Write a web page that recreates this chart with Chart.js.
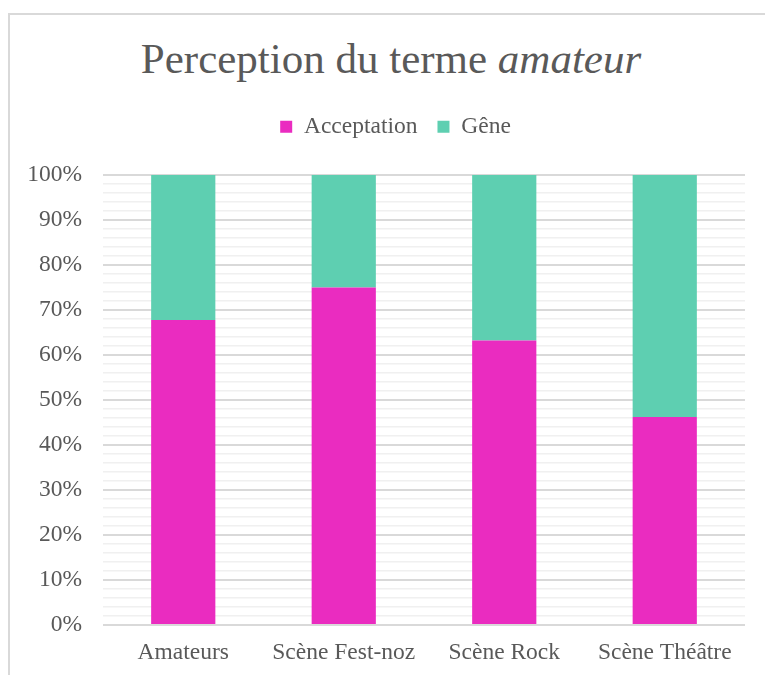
<!DOCTYPE html>
<html lang="fr">
<head>
  <meta charset="UTF-8">
  <title>Perception du terme amateur</title>
  <script src="https://cdn.jsdelivr.net/npm/chart.js"></script>
  <style>
    body {
      margin: 0;
      background: #fff;
      width: 765px;
      height: 675px;
      overflow: hidden;
      position: relative;
      font-family: "Liberation Serif", "Times New Roman", serif;
    }

    .frame {
      position: absolute;
      left: 8px;
      top: 13px;
      width: 800px;
      height: 700px;
      border-top: 2px solid #d9d9d9;
      border-left: 2px solid #d9d9d9;
    }

    #title {
      position: absolute;
      left: 0;
      top: 37px;
      width: 782px;
      text-align: center;
      font-size: 43px;
      line-height: 43px;
      color: #595959;
      white-space: nowrap;
    }

    .chart-box {
      position: absolute;
      left: 0;
      top: 0;
      width: 765px;
      height: 675px;
    }
  </style>
</head>
<body>

  <div class="frame"></div>
  <div id="title">Perception du terme <i>amateur</i></div>
  <div class="chart-box">
    <canvas id="perceptionChart" width="765" height="675"></canvas>
  </div>

  <script>
  // valeurs (en %)
  const categories = ["Amateurs", "Scène Fest-noz", "Scène Rock", "Scène Théâtre"];
  const acceptation = [67.8, 75, 63.2, 46.2];
  const gene = [32.2, 25, 36.8, 53.8];
  const yTicks = [0, 10, 20, 30, 40, 50, 60, 70, 80, 90, 100];

  const serif = "'Liberation Serif', 'Times New Roman', serif";
  const textColor = "#595959";

  // un peu plus d'espace sous la légende, et légende décalée vers la droite
  const legendSpacer = {
    id: "legendSpacer",
    beforeInit(chart) {
      const origFit = chart.legend.fit;
      chart.legend.fit = function () {
        origFit.bind(chart.legend)();
        this.height += 26.5;
      };
    },
    afterLayout(chart) {
      chart.legend.left += 46;
    }
  };

  const ctx = document.getElementById("perceptionChart").getContext("2d");
  new Chart(ctx, {
    type: "bar",
    data: {
      labels: categories,
      datasets: [
        {
          label: "Acceptation",
          data: acceptation,
          backgroundColor: "#ea2cc0",
          barPercentage: 0.4,
          categoryPercentage: 1
        },
        {
          label: "Gêne",
          data: gene,
          backgroundColor: "#5ecfb1",
          barPercentage: 0.4,
          categoryPercentage: 1
        }
      ]
    },
    options: {
      responsive: false,
      animation: false,
      layout: {
        padding: { top: 95, left: 0, right: 20, bottom: 0 }
      },
      plugins: {
        title: { display: false },
        tooltip: { enabled: false },
        legend: {
          position: "top",
          labels: {
            boxWidth: 12,
            boxHeight: 12,
            padding: 20,
            color: textColor,
            font: { family: serif, size: 23.5 }
          }
        }
      },
      scales: {
        x: {
          stacked: true,
          grid: { display: false, drawTicks: false },
          border: { display: false },
          ticks: {
            color: textColor,
            padding: 14,
            font: { family: serif, size: 23.5 }
          },
          afterFit(scale) { scale.height = 50; }
        },
        y: {
          stacked: true,
          min: 0,
          max: 100,
          border: { display: false },
          grid: {
            drawTicks: false,
            color: c => yTicks.includes(c.tick.value) ? "#d9d9d9" : "#f0f0f0",
            lineWidth: c => yTicks.includes(c.tick.value) ? 2 : 1.5
          },
          ticks: {
            stepSize: 2,
            autoSkip: false,
            padding: 21,
            color: textColor,
            font: { family: serif, size: 23.5 },
            callback: v => yTicks.includes(v) ? v + "%" : ""
          },
          afterFit(scale) { scale.width = 103; }
        }
      }
    },
    plugins: [legendSpacer]
  });
  </script>
</body>
</html>
